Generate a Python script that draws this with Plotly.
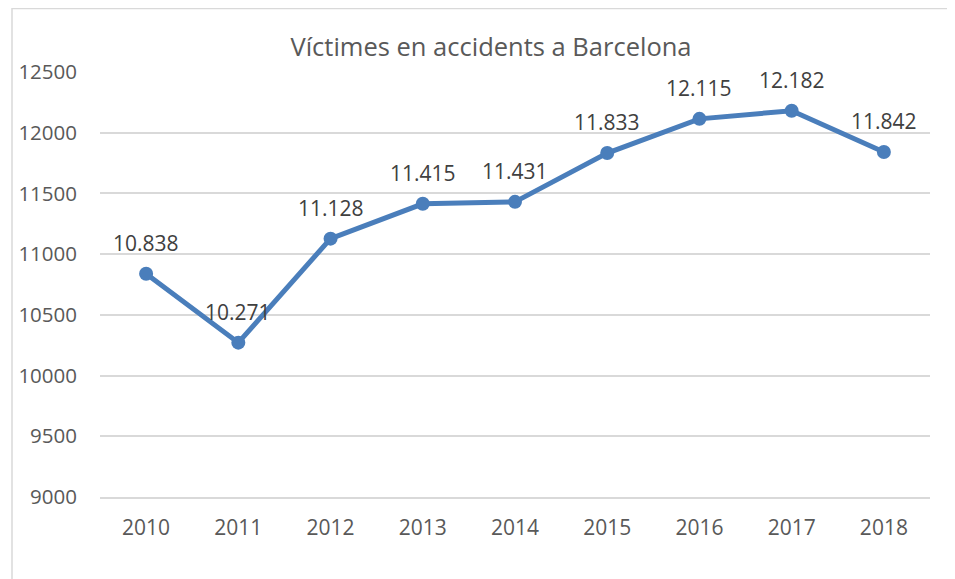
import plotly.graph_objects as go

years = ["2010", "2011", "2012", "2013", "2014", "2015", "2016", "2017", "2018"]
victims = [10838, 10271, 11128, 11415, 11431, 11833, 12115, 12182, 11842]
labels = ["10.838", "10.271", "11.128", "11.415", "11.431", "11.833", "12.115", "12.182", "11.842"]
y_ticks = [9000, 9500, 10000, 10500, 11000, 11500, 12000, 12500]

FONT = "Open Sans"
LINE = "#4A7EBB"

fig = go.Figure()
fig.add_trace(go.Scatter(
    x=years, y=victims, mode="lines+markers",
    line=dict(color=LINE, width=5),
    marker=dict(color=LINE, size=14),
    hoverinfo="skip", showlegend=False,
))

for i, (v, lab) in enumerate(zip(victims, labels)):
    fig.add_annotation(x=i, y=v, text=lab, showarrow=False, yshift=31,
                       font=dict(family=FONT, size=21, color="#404040"))

# page has an 8px body margin; figure coords = page coords - 8
OFF = 8
W, H = 955, 579
L, T = 100 - OFF, 72 - OFF
R = W - (930 - OFF)
B = H - (497 - OFF)
pw, ph = W - L - R, H - T - B
bx0 = (12 - OFF - L) / pw
bx1 = (948 - OFF - L) / pw
by1 = 1 + (T - 0.5) / ph
by0 = -(H + 20 - (H - B)) / ph
fig.add_shape(type="rect", xref="paper", yref="paper",
              x0=bx0, x1=bx1, y0=by0, y1=by1,
              line=dict(color="#D9D9D9", width=1.5), fillcolor="rgba(0,0,0,0)")

fig.update_layout(
    width=W, height=H,
    margin=dict(l=L, r=R, t=T, b=B, pad=0, autoexpand=False),
    paper_bgcolor="white", plot_bgcolor="white",
    title=dict(text="Víctimes en accidents a Barcelona",
               x=(491 - OFF) / W, xanchor="center", xref="container",
               y=1 - (47 - OFF) / H, yanchor="middle", yref="container",
               font=dict(family=FONT, size=25.5, color="#595959")),
    font=dict(family=FONT, color="#595959"),
)
fig.update_xaxes(
    type="category", range=[-0.5, len(years) - 0.5],
    showgrid=False, zeroline=False,
    showline=True, linecolor="#D9D9D9", linewidth=1.5,
    ticks="", ticklabelstandoff=11, automargin=False,
    tickfont=dict(family=FONT, size=21, color="#595959"),
)
fig.update_yaxes(
    range=[8999, 12501], tickvals=y_ticks, ticktext=[str(t) for t in y_ticks],
    showgrid=True, gridcolor="#D9D9D9", gridwidth=1.5, zeroline=False,
    showline=False, ticks="", ticklabelstandoff=22, automargin=False,
    tickfont=dict(family=FONT, size=20.5, color="#595959"),
)

fig.write_html("out.html")
